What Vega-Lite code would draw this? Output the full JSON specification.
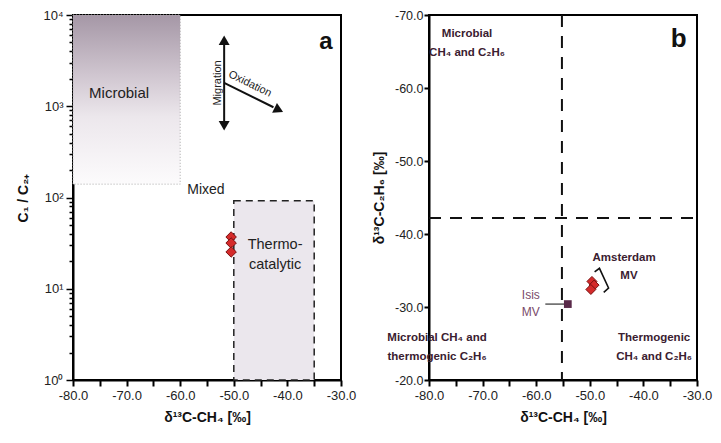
{
  "$schema": "https://vega.github.io/schema/vega-lite/v6.json",
  "background": "white",
  "padding": {"left": 15, "top": 8, "right": 5, "bottom": 5},
  "bounds": "flush",
  "spacing": 88,
  "config": {
    "font": "Liberation Sans",
    "view": {"stroke": "black", "strokeWidth": 2},
    "axis": {
      "grid": false, "ticks": true, "domainColor": "black", "domainWidth": 2,
      "tickColor": "black", "tickWidth": 2, "tickSize": 6,
      "labelFont": "Liberation Sans", "labelFontSize": 13, "labelColor": "#222",
      "titleFont": "Liberation Sans", "titleFontSize": 14, "titleFontWeight": "bold", "titleColor": "#111"
    }
  },
  "hconcat": [
    {
      "width": 268, "height": 365,
      "encoding": {
        "x": {"field": "x", "type": "quantitative",
          "scale": {"domain": [-80, -30], "nice": false, "zero": false},
          "axis": {"title": "δ¹³C-CH₄ [‰]", "values": [-80,-75,-70,-65,-60,-55,-50,-45,-40,-35,-30],
            "labelExpr": "datum.value % 10 == 0 ? toString(datum.value) + '.0' : ''",
            "ticks": true, "tickSize": 6, "tickWidth": 2,
            "labelPadding": 3, "titlePadding": 8, "labelFlush": false}},
        "y": {"field": "y", "type": "quantitative",
          "scale": {"type": "log", "domain": [1, 10000], "nice": false},
          "axis": {"title": "C₁ / C₂₊", "values": [1,2,3,4,5,6,7,8,9,10,20,30,40,50,60,70,80,90,100,200,300,400,500,600,700,800,900,1000,2000,3000,4000,5000,6000,7000,8000,9000,10000],
            "labelExpr": "indexof([1,10,100,1000,10000], datum.value) >= 0 ? '10' + ['⁰','¹','²','³','⁴'][round(log(datum.value)/LN10)] : ''",
            "ticks": true, "tickWidth": 1.5,
            "tickSize": {"condition": {"test": "indexof([1,10,100,1000,10000], datum.value) >= 0", "value": 7}, "value": 4},
            "labelPadding": 3, "titlePadding": 12, "labelFlush": false}}
      },
      "layer": [
        {
          "data": {"values": [{"x": -80, "x2": -60, "y": 140, "y2": 10000}]},
          "mark": {"type": "rect", "stroke": "#aaa", "strokeWidth": 1, "strokeDash": [1, 2],
            "fill": {"gradient": "linear", "x1": 0, "y1": 0, "x2": 0, "y2": 1,
              "stops": [{"offset": 0, "color": "#a597a6"}, {"offset": 0.35, "color": "#cfc5cf"}, {"offset": 0.6, "color": "#ece7ec"}, {"offset": 1, "color": "#fcfbfc"}]}},
          "encoding": {"x2": {"field": "x2"}, "y2": {"field": "y2"}}
        },
        {
          "data": {"values": [{"x": -50, "x2": -35, "y": 1, "y2": 92}]},
          "mark": {"type": "rect", "fill": "#ebe7ed", "stroke": "#222", "strokeWidth": 1.5, "strokeDash": [7, 5]},
          "encoding": {"x2": {"field": "x2"}, "y2": {"field": "y2"}}
        },
        {
          "data": {"values": [
            {"x": -51.8, "y": 4690, "x2": -51.8, "y2": 672},
            {"x": -51.8, "y": 1800, "x2": -42.6, "y2": 975}
          ]},
          "mark": {"type": "rule", "color": "#111", "strokeWidth": 2},
          "encoding": {"x2": {"field": "x2"}, "y2": {"field": "y2"}}
        },
        {
          "data": {"values": [
            {"x": -51.8, "y": 5300, "s": "triangle-up", "a": 0},
            {"x": -51.8, "y": 610, "s": "triangle-down", "a": 0},
            {"x": -41.6, "y": 910, "s": "triangle-right", "a": 26}
          ]},
          "mark": {"type": "point", "filled": true, "color": "#111", "size": 120, "opacity": 1},
          "encoding": {"shape": {"field": "s", "type": "nominal", "scale": null}, "angle": {"field": "a", "type": "quantitative", "scale": null}}
        },
        {
          "data": {"values": [
            {"x": -50.5, "y": 36.9},
            {"x": -50.5, "y": 31.7},
            {"x": -50.5, "y": 25.3}
          ]},
          "mark": {"type": "point", "shape": "diamond", "filled": true, "fill": "#d42a2a", "stroke": "#7a1010", "strokeWidth": 1, "size": 110, "opacity": 1}
        },
        {
          "data": {"values": [
            {"x": -71.4, "y": 1400, "t": "Microbial", "fs": 15},
            {"x": -55.2, "y": 121, "t": "Mixed", "fs": 14},
            {"x": -42.3, "y": 30.2, "t": "Thermo-", "fs": 14.5},
            {"x": -42.3, "y": 18.2, "t": "catalytic", "fs": 14.5}
          ]},
          "mark": {"type": "text", "align": "center", "baseline": "middle", "color": "#222"},
          "encoding": {"text": {"field": "t"}, "size": {"field": "fs", "type": "quantitative", "scale": null}}
        },
        {
          "data": {"values": [
            {"x": -53.0, "y": 1800, "t": "Migration", "a": 270},
            {"x": -47.0, "y": 1750, "t": "Oxidation", "a": 26}
          ]},
          "mark": {"type": "text", "align": "center", "baseline": "middle", "color": "#222", "fontSize": 11},
          "encoding": {"text": {"field": "t"}, "angle": {"field": "a", "type": "quantitative", "scale": null}}
        },
        {
          "data": {"values": [{"x": -32.8, "y": 5060, "t": "a"}]},
          "mark": {"type": "text", "align": "center", "baseline": "middle", "color": "#111", "fontSize": 24, "fontWeight": "bold"},
          "encoding": {"text": {"field": "t"}}
        }
      ]
    },
    {
      "width": 268, "height": 365,
      "encoding": {
        "x": {"field": "x", "type": "quantitative",
          "scale": {"domain": [-80, -30], "nice": false, "zero": false},
          "axis": {"title": "δ¹³C-CH₄ [‰]", "values": [-80,-75,-70,-65,-60,-55,-50,-45,-40,-35,-30],
            "labelExpr": "datum.value % 10 == 0 ? toString(datum.value) + '.0' : ''",
            "ticks": true, "tickSize": 6, "tickWidth": 2,
            "labelPadding": 3, "titlePadding": 8, "labelFlush": false}},
        "y": {"field": "y", "type": "quantitative",
          "scale": {"domain": [-70, -20], "nice": false, "zero": false, "reverse": true},
          "axis": {"title": "δ¹³C-C₂H₆ [‰]", "values": [-70,-60,-50,-40,-30,-20],
            "labelExpr": "toString(datum.value) + '.0'",
            "ticks": true, "tickSize": 5, "tickWidth": 2,
            "labelPadding": 1, "titlePadding": 8, "labelFlush": false, "labelFontSize": 12.5}}
      },
      "layer": [
        {
          "data": {"values": [{"x": -55.2, "y": -70, "y2": -20}]},
          "mark": {"type": "rule", "color": "#111", "strokeWidth": 2, "strokeDash": [12, 9]},
          "encoding": {"y2": {"field": "y2"}}
        },
        {
          "data": {"values": [{"x": -80, "x2": -30, "y": -42.2}]},
          "mark": {"type": "rule", "color": "#111", "strokeWidth": 2, "strokeDash": [12, 9]},
          "encoding": {"x2": {"field": "x2"}}
        },
        {
          "data": {"values": [{"x": -58.3, "y": -30.4, "x2": -54.6}]},
          "mark": {"type": "rule", "color": "#333", "strokeWidth": 1.2},
          "encoding": {"x2": {"field": "x2"}}
        },
        {
          "data": {"values": [
            {"x": -49.1, "y": -34.8, "o": 1},
            {"x": -48.2, "y": -35.3, "o": 2},
            {"x": -46.5, "y": -32.6, "o": 3},
            {"x": -47.4, "y": -32.0, "o": 4}
          ]},
          "mark": {"type": "line", "color": "#111", "strokeWidth": 1.6},
          "encoding": {"order": {"field": "o", "type": "quantitative"}}
        },
        {
          "data": {"values": [{"x": -54.1, "y": -30.4}]},
          "mark": {"type": "square", "color": "#5a2a4a", "size": 60, "opacity": 1}
        },
        {
          "data": {"values": [
            {"x": -49.6, "y": -33.5},
            {"x": -49.2, "y": -33.0},
            {"x": -49.8, "y": -32.4}
          ]},
          "mark": {"type": "point", "shape": "diamond", "filled": true, "fill": "#d42a2a", "stroke": "#7a1010", "strokeWidth": 1, "size": 100, "opacity": 1}
        },
        {
          "data": {"values": [
            {"x": -72.9, "y": -67.4, "t": "Microbial", "al": "center"},
            {"x": -72.9, "y": -64.8, "t": "CH₄ and C₂H₆", "al": "center"},
            {"x": -43.6, "y": -36.7, "t": "Amsterdam", "al": "center"},
            {"x": -42.7, "y": -34.3, "t": "MV", "al": "center"},
            {"x": -78.5, "y": -25.7, "t": "Microbial CH₄ and", "al": "left"},
            {"x": -78.5, "y": -23.1, "t": "thermogenic C₂H₆", "al": "left"},
            {"x": -38.0, "y": -25.7, "t": "Thermogenic", "al": "center"},
            {"x": -38.0, "y": -23.1, "t": "CH₄ and C₂H₆", "al": "center"}
          ]},
          "mark": {"type": "text", "baseline": "middle", "color": "#3a2030", "fontSize": 11.5, "fontWeight": "bold"},
          "encoding": {"text": {"field": "t"}, "align": {"field": "al", "type": "nominal", "scale": null}}
        },
        {
          "data": {"values": [
            {"x": -61.0, "y": -31.6, "t": "Isis"},
            {"x": -61.0, "y": -29.3, "t": "MV"}
          ]},
          "mark": {"type": "text", "align": "center", "baseline": "middle", "color": "#7a4a6a", "fontSize": 12},
          "encoding": {"text": {"field": "t"}}
        },
        {
          "data": {"values": [{"x": -33.4, "y": -66.7, "t": "b"}]},
          "mark": {"type": "text", "align": "center", "baseline": "middle", "color": "#111", "fontSize": 26, "fontWeight": "bold"},
          "encoding": {"text": {"field": "t"}}
        }
      ]
    }
  ]
}
